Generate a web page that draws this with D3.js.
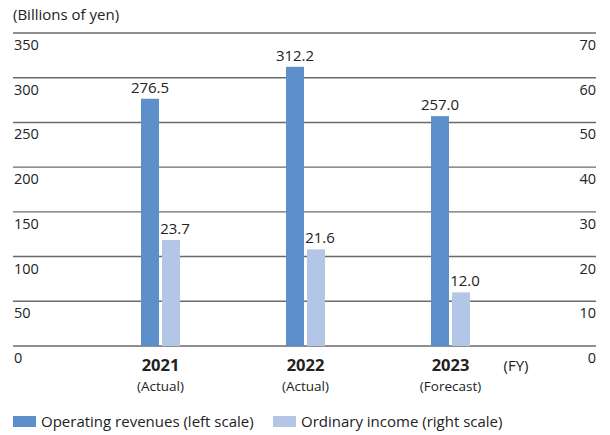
<!DOCTYPE html>
<html><head><meta charset="utf-8">
<script src="https://cdn.jsdelivr.net/npm/d3@7"></script>
<style>body{margin:0;background:#fff}svg{display:block}text{font-family:"Open Sans","Noto Sans",sans-serif;fill:#222}</style>
</head><body><svg id="c" width="610" height="435"></svg>
<script>
const years = ["2021", "2022", "2023"];
const subLabels = ["(Actual)", "(Actual)", "(Forecast)"];
const revenues = [276.5, 312.2, 257.0];
const income = [23.7, 21.6, 12.0];
const leftTicks = [0, 50, 100, 150, 200, 250, 300, 350];
const rightTicks = [0, 10, 20, 30, 40, 50, 60, 70];

const svg = d3.select("#c");
const x0 = 13, x1 = 596, yTop = 33, yBot = 346;
const yL = d3.scaleLinear().domain([0, 350]).range([yBot, yTop]);
const yR = d3.scaleLinear().domain([0, 70]).range([yBot, yTop]);
const xb = d3.scaleBand().domain(years).range([88, 523]).padding(0);
const bw = 18, gap = 3;
const cDark = "#5d8fca", cLight = "#b4c6e6";

svg.append("text").attr("x", 13).attr("y", 20).attr("font-size", 15).text("(Billions of yen)");

svg.selectAll("line.g").data(leftTicks).join("line")
  .attr("x1", x0).attr("x2", x1).attr("y1", d => yL(d)).attr("y2", d => yL(d))
  .attr("stroke", "#6a6a6a").attr("stroke-width", 1.4);

svg.selectAll("text.l").data(leftTicks).join("text")
  .attr("x", 14).attr("y", d => yL(d) + 17).attr("font-size", 14.5).text(d => d);
svg.selectAll("text.r").data(rightTicks).join("text")
  .attr("x", 596).attr("y", d => yR(d) + 17).attr("text-anchor", "end").attr("font-size", 14.5).text(d => d);

const cx = d => xb(d) + xb.bandwidth() / 2;

svg.selectAll("rect.d").data(revenues).join("rect")
  .attr("x", (d, i) => cx(years[i]) - gap / 2 - bw).attr("width", bw)
  .attr("y", d => yL(d)).attr("height", d => yBot - yL(d)).attr("fill", cDark);
svg.selectAll("rect.li").data(income).join("rect")
  .attr("x", (d, i) => cx(years[i]) + gap / 2).attr("width", bw)
  .attr("y", d => yR(d)).attr("height", d => yBot - yR(d)).attr("fill", cLight);

svg.selectAll("text.vd").data(revenues).join("text")
  .attr("x", (d, i) => cx(years[i]) - gap / 2 - bw / 2).attr("y", d => yL(d) - 6)
  .attr("text-anchor", "middle").attr("font-size", 15).text(d => d.toFixed(1));
svg.selectAll("text.vl").data(income).join("text")
  .attr("x", (d, i) => cx(years[i]) + gap / 2 + bw / 2 + 4).attr("y", d => yR(d) - 6)
  .attr("text-anchor", "middle").attr("font-size", 15).text(d => d.toFixed(1));

svg.selectAll("text.yr").data(years).join("text")
  .attr("x", d => cx(d)).attr("y", 371).attr("text-anchor", "middle")
  .attr("font-size", 16.5).attr("font-weight", "bold").text(d => d);
svg.selectAll("text.sub").data(subLabels).join("text")
  .attr("x", (d, i) => cx(years[i])).attr("y", 391).attr("text-anchor", "middle")
  .attr("font-size", 13.5).text(d => d);
svg.append("text").attr("x", 516).attr("y", 371).attr("text-anchor", "middle").attr("font-size", 15).text("(FY)");

const leg = [["Operating revenues (left scale)", cDark, 13], ["Ordinary income (right scale)", cLight, 273]];
leg.forEach(([t, c, x]) => {
  svg.append("rect").attr("x", x).attr("y", 416).attr("width", 23).attr("height", 11).attr("fill", c);
  svg.append("text").attr("x", x + 28).attr("y", 427).attr("font-size", 15).text(t);
});
</script></body></html>
